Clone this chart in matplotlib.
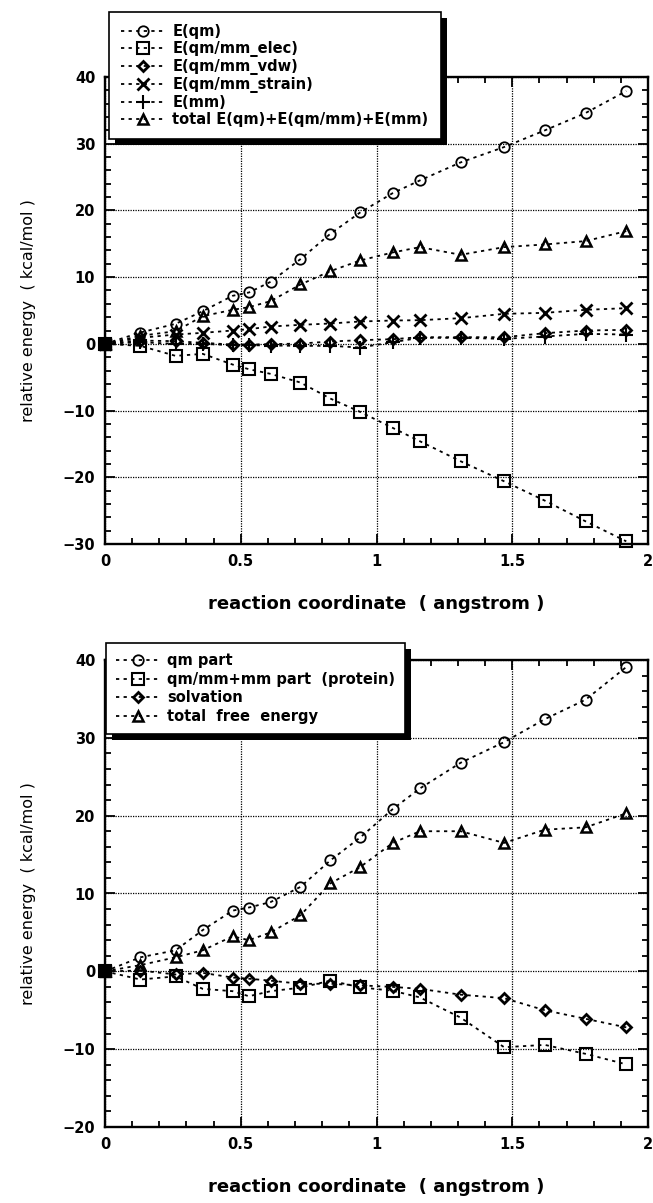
import matplotlib
matplotlib.use('Agg')
import matplotlib.pyplot as plt
from matplotlib.ticker import MultipleLocator
from matplotlib.patches import Rectangle
from matplotlib.transforms import IdentityTransform

# reaction coordinate (angstrom)
coord = [0, 0.13, 0.26, 0.36, 0.47, 0.53, 0.61, 0.72, 0.83, 0.94,
         1.06, 1.16, 1.31, 1.47, 1.62, 1.77, 1.92]

# top panel series (kcal/mol)
e_qm = [0, 1.7, 3.0, 4.9, 7.2, 7.7, 9.3, 12.7, 16.5, 19.7,
        22.6, 24.5, 27.2, 29.5, 32.0, 34.6, 37.9]
e_elec = [0, -0.3, -1.8, -1.5, -3.1, -3.8, -4.5, -5.8, -8.2, -10.2,
          -12.6, -14.6, -17.6, -20.6, -23.5, -26.6, -29.6]
e_vdw = [0, 0.5, 0.4, 0.15, -0.1, -0.1, -0.05, 0.05, 0.35, 0.55,
         0.7, 1.0, 1.0, 1.0, 1.6, 2.0, 2.1]
e_strain = [0, 0.9, 1.4, 1.65, 2.0, 2.2, 2.6, 2.85, 3.05, 3.35,
            3.5, 3.55, 3.85, 4.5, 4.65, 5.1, 5.35]
e_mm = [0, 0.25, 0.0, 0.0, -0.2, -0.2, -0.25, -0.3, -0.3, -0.55,
        0.25, 0.9, 0.9, 0.75, 1.1, 1.5, 1.4]
e_total = [0, 1.2, 1.9, 4.15, 5.1, 5.5, 6.4, 8.9, 10.9, 12.5,
           13.7, 14.5, 13.35, 14.5, 14.9, 15.4, 16.9]

# bottom panel series (kcal/mol)
qm_part = [0, 1.8, 2.7, 5.3, 7.8, 8.2, 8.9, 10.85, 14.25, 17.2,
           20.85, 23.5, 26.8, 29.45, 32.4, 34.9, 39.1]
protein_part = [0, -1.05, -0.65, -2.25, -2.55, -3.2, -2.55, -2.1, -1.2, -2.05,
                -2.5, -3.35, -5.95, -9.75, -9.45, -10.6, -11.95]
solvation = [0, 0.1, -0.4, -0.2, -0.8, -0.95, -1.2, -1.6, -1.6, -1.8,
             -2.0, -2.25, -3.0, -3.45, -5.0, -6.1, -7.2]
total_free = [0, 0.8, 1.8, 2.7, 4.5, 4.0, 5.0, 7.2, 11.3, 13.4,
              16.5, 18.0, 18.0, 16.5, 18.2, 18.5, 20.3]

top_labels = ['E(qm)', 'E(qm/mm_elec)', 'E(qm/mm_vdw)', 'E(qm/mm_strain)',
              'E(mm)', 'total E(qm)+E(qm/mm)+E(mm)']
bottom_labels = ['qm part', 'qm/mm+mm part  (protein)', 'solvation',
                 'total  free  energy']

xlabel = 'reaction coordinate  ( angstrom )'
ylabel = 'relative energy  ( kcal/mol )'

plt.rcParams['font.family'] = ['DejaVu Sans']

W, H = 653, 1203
fig = plt.figure(figsize=(W / 100, H / 100), dpi=100)


def px_axes(l, t, r, b):
    return [l / W, 1 - b / H, (r - l) / W, (b - t) / H]


ax1 = fig.add_axes(px_axes(105, 77, 648, 544))
ax2 = fig.add_axes(px_axes(105, 660, 648, 1127))

marker_style = {
    'o': dict(markersize=7.5, markeredgewidth=1.3),
    's': dict(markersize=8, markeredgewidth=1.5),
    'D': dict(markersize=5.5, markeredgewidth=2.0),
    'x': dict(markersize=8.5, markeredgewidth=2.0),
    '+': dict(markersize=10, markeredgewidth=1.5),
    '^': dict(markersize=7.5, markeredgewidth=1.8),
}


def plot_series(ax, y, marker, label):
    ax.plot(coord, y, color='black', linestyle=(0, (1.8, 2.4)), linewidth=1.3,
            marker=marker, markerfacecolor='none', markeredgecolor='black',
            label=label, clip_on=False, zorder=3, **marker_style[marker])


def mark_origin(ax, y):
    # the overlapping start points form a filled block at the origin
    ax.plot(coord[:1], y[:1], linestyle='none', marker='s', markersize=8,
            markerfacecolor='black', markeredgecolor='black',
            clip_on=False, zorder=3.5)


def style_axes(ax, ymin, ymax):
    ax.set_xlim(0, 2)
    ax.set_ylim(ymin, ymax)
    ax.xaxis.set_major_locator(MultipleLocator(0.5))
    ax.xaxis.set_minor_locator(MultipleLocator(0.1))
    ax.yaxis.set_major_locator(MultipleLocator(10))
    ax.yaxis.set_minor_locator(MultipleLocator(2))
    ax.xaxis.set_major_formatter(plt.FuncFormatter(lambda v, p: ('%g' % v)))
    ax.grid(True, which='major', color='black', linestyle=(0, (1, 1)),
            linewidth=0.9, zorder=1)
    ax.set_axisbelow(True)
    ax.tick_params(which='both', direction='in', top=True, right=True,
                   width=1.3, color='black')
    ax.tick_params(which='major', length=7, labelsize=10.5, pad=7)
    ax.tick_params(which='minor', length=4.5)
    for lab in ax.get_xticklabels() + ax.get_yticklabels():
        lab.set_fontweight('bold')
    for sp in ax.spines.values():
        sp.set_linewidth(1.7)
        sp.set_zorder(4)
    ax.set_xlabel(xlabel, fontsize=13, fontweight='bold', labelpad=19)
    ax.set_ylabel(ylabel, fontsize=11.5, labelpad=19)


plot_series(ax1, e_qm, 'o', top_labels[0])
plot_series(ax1, e_elec, 's', top_labels[1])
plot_series(ax1, e_vdw, 'D', top_labels[2])
plot_series(ax1, e_strain, 'x', top_labels[3])
plot_series(ax1, e_mm, '+', top_labels[4])
plot_series(ax1, e_total, '^', top_labels[5])
mark_origin(ax1, e_elec)
style_axes(ax1, -30, 40)

plot_series(ax2, qm_part, 'o', bottom_labels[0])
plot_series(ax2, protein_part, 's', bottom_labels[1])
plot_series(ax2, solvation, 'D', bottom_labels[2])
plot_series(ax2, total_free, '^', bottom_labels[3])
mark_origin(ax2, protein_part)
style_axes(ax2, -20, 40)


def add_legend(ax, x0, y0, spacing, pad):
    leg = ax.legend(loc='upper left', bbox_to_anchor=(x0 / W, 1 - y0 / H),
                    bbox_transform=fig.transFigure, frameon=True,
                    fancybox=False, edgecolor='black', facecolor='white',
                    framealpha=1, borderaxespad=0, borderpad=pad,
                    handlelength=3.0, handletextpad=0.5,
                    labelspacing=spacing, numpoints=1,
                    prop={'weight': 'bold', 'size': 10.5})
    leg.get_frame().set_linewidth(1.2)
    leg.set_zorder(6)
    return leg


leg1 = add_legend(ax1, 109, 12, 0.13, 0.85)
leg2 = add_legend(ax2, 106, 643, 0.24, 0.7)

fig.canvas.draw()
for ax, leg in ((ax1, leg1), (ax2, leg2)):
    bb = leg.get_window_extent()
    sh = Rectangle((bb.x0 + 6, bb.y0 - 6), bb.width, bb.height,
                   facecolor='black', edgecolor='none',
                   transform=IdentityTransform(), clip_on=False, zorder=5.5)
    ax.add_artist(sh)

fig.savefig('out.png', dpi=100)
